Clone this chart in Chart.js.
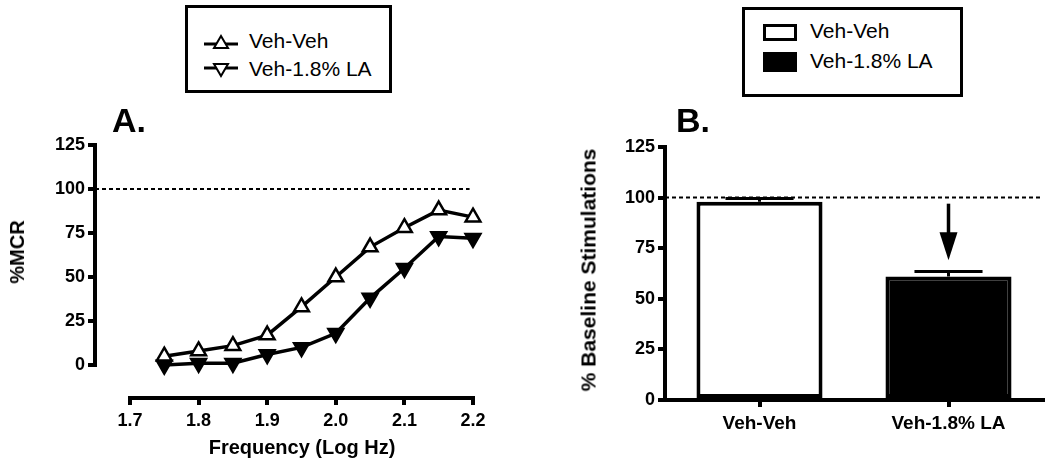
<!DOCTYPE html>
<html>
<head>
<meta charset="utf-8">
<script src="https://cdn.jsdelivr.net/npm/chart.js@4.4.1/dist/chart.umd.min.js"></script>
<style>
  body { margin: 0; background: #fff; font-family: "Liberation Sans", Arial, sans-serif; }
  #wrap { position: relative; width: 1050px; height: 472px; overflow: hidden; }
  canvas { position: absolute; top: 0; }
  .txt { position: absolute; color: #000; white-space: nowrap; line-height: 1; }
  .bold { font-weight: bold; }
  .rot { transform: translate(-50%, -50%) rotate(-90deg); }
  .legend { position: absolute; border: 3px solid #000; box-sizing: border-box; background: #fff; }
  .item { position: absolute; font-size: 21px; line-height: 22px; white-space: nowrap; }
</style>
</head>
<body>
<div id="wrap">
  <canvas id="chartA" width="520" height="472" style="left:0"></canvas>
  <canvas id="axisA" width="520" height="472" style="left:0"></canvas>
  <canvas id="chartB" width="530" height="472" style="left:520px"></canvas>

  <div class="txt bold" style="left:112px; top:103px; font-size:34px;">A.</div>
  <div class="txt bold" style="left:676px; top:103px; font-size:34px;">B.</div>

  <div class="txt bold rot" style="left:17px; top:252px; font-size:20px;">%MCR</div>
  <div class="txt bold" style="left:302px; top:447px; font-size:20px; transform:translate(-50%,-50%);">Frequency (Log Hz)</div>
  <div class="txt bold rot" style="left:588px; top:270px; font-size:21px;">% Baseline Stimulations</div>

  <div class="legend" style="left:185px; top:5px; width:207px; height:88px;">
    <div class="item" style="left:15px; top:22px;">
      <svg width="36" height="16" style="vertical-align:middle; margin-right:10px;">
        <line x1="1" y1="10" x2="35" y2="10" stroke="#000" stroke-width="3"/>
        <polygon points="18,2 25,14 11,14" fill="#fff" stroke="#000" stroke-width="2"/>
      </svg><span id="legA0"></span>
    </div>
    <div class="item" style="left:15px; top:50px;">
      <svg width="36" height="16" style="vertical-align:middle; margin-right:10px;">
        <line x1="1" y1="6" x2="35" y2="6" stroke="#000" stroke-width="3"/>
        <polygon points="11,2 25,2 18,14" fill="#fff" stroke="#000" stroke-width="2"/>
      </svg><span id="legA1"></span>
    </div>
  </div>

  <div class="legend" style="left:742px; top:7px; width:221px; height:90px;">
    <div class="item" style="left:18px; top:10px;">
      <span style="display:inline-block; width:34px; height:17px; box-sizing:border-box; border:3px solid #000; background:#fff; vertical-align:middle; margin-right:13px;"></span><span id="legB0"></span>
    </div>
    <div class="item" style="left:18px; top:40px;">
      <span style="display:inline-block; width:34px; height:20px; background:#000; vertical-align:middle; margin-right:13px;"></span><span id="legB1"></span>
    </div>
  </div>
</div>

<script>
// Panel A: frequency response
const freq = [1.75, 1.8, 1.85, 1.9, 1.95, 2.0, 2.05, 2.1, 2.15, 2.2];
const vehVeh = [5, 8, 11, 17, 33, 50, 67, 78, 88, 84];
const vehLA = [0, 1, 1, 6, 10, 18, 38, 55, 73, 72];
const seriesA = ['Veh-Veh', 'Veh-1.8% LA'];
const xTicksA = [1.7, 1.8, 1.9, 2.0, 2.1, 2.2];
const yTicksA = [0, 25, 50, 75, 100, 125];

// Panel B: baseline stimulations
const groups = ['Veh-Veh', 'Veh-1.8% LA'];
const barMeans = [98, 61];
const barErrors = [1.5, 2.5];
const yTicksB = [0, 25, 50, 75, 100, 125];
const refLine = 100;
const arrowFrom = 97;
const arrowTo = 69;

document.getElementById('legA0').textContent = seriesA[0];
document.getElementById('legA1').textContent = seriesA[1];
document.getElementById('legB0').textContent = groups[0];
document.getElementById('legB1').textContent = groups[1];

Chart.defaults.font.family = '"Liberation Sans", Arial, sans-serif';
Chart.defaults.color = '#000';

const tickFont = { size: 18, weight: 'bold' };
const axisWidth = 4;

// dashed 100% line
const refLinePlugin = {
  id: 'refLine',
  beforeDatasetsDraw(chart) {
    const { ctx, chartArea, scales } = chart;
    const y = scales.y.getPixelForValue(refLine);
    const end = chart.config.options.refLineEnd;
    ctx.save();
    ctx.strokeStyle = '#000';
    ctx.lineWidth = 2;
    ctx.setLineDash([4, 3]);
    ctx.beginPath();
    ctx.moveTo(chartArea.left, y);
    ctx.lineTo(end ? scales.x.getPixelForValue(end) : chartArea.right, y);
    ctx.stroke();
    ctx.restore();
  }
};

// main plot of panel A (y axis only, x scale hidden)
new Chart(document.getElementById('chartA'), {
  type: 'line',
  data: {
    datasets: [
      {
        label: seriesA[0],
        data: freq.map((f, i) => ({ x: f, y: vehVeh[i] })),
        borderColor: '#000',
        borderWidth: 3.5,
        pointStyle: 'triangle',
        pointRadius: 8.5,
        pointBorderWidth: 2.5,
        pointBackgroundColor: '#fff',
        pointBorderColor: '#000',
        clip: false
      },
      {
        label: seriesA[1],
        data: freq.map((f, i) => ({ x: f, y: vehLA[i] })),
        borderColor: '#000',
        borderWidth: 3.5,
        pointStyle: 'triangle',
        pointRotation: 180,
        pointRadius: 8.5,
        pointBorderWidth: 2.5,
        pointBackgroundColor: '#000',
        pointBorderColor: '#000',
        clip: false
      }
    ]
  },
  options: {
    responsive: false,
    animation: false,
    devicePixelRatio: 1,
    refLineEnd: 2.195,
    layout: { padding: { left: 0, right: 47, top: 145, bottom: 107 } },
    plugins: { legend: { display: false }, tooltip: { enabled: false } },
    scales: {
      x: { type: 'linear', min: 1.649, max: 2.2, display: false },
      y: {
        min: 0,
        max: 125,
        afterBuildTicks: s => { s.ticks = yTicksA.map(v => ({ value: v })); },
        afterFit: s => { s.width = 95; },
        border: { display: true, color: '#000', width: axisWidth },
        grid: { drawOnChartArea: false, drawTicks: true, tickLength: 7, color: '#000', lineWidth: axisWidth },
        ticks: { font: tickFont, padding: 3 }
      }
    }
  },
  plugins: [refLinePlugin]
});

// detached x axis of panel A (GraphPad style), its own scale from 1.7 to 2.2
new Chart(document.getElementById('axisA'), {
  type: 'line',
  data: { datasets: [] },
  options: {
    responsive: false,
    animation: false,
    devicePixelRatio: 1,
    layout: { padding: { left: 130, right: 47, top: 390, bottom: 0 } },
    plugins: { legend: { display: false }, tooltip: { enabled: false } },
    scales: {
      x: {
        type: 'linear',
        min: xTicksA[0],
        max: xTicksA[xTicksA.length - 1],
        afterBuildTicks: s => { s.ticks = xTicksA.map(v => ({ value: v })); },
        afterFit: s => { s.height = 74; },
        border: { display: true, color: '#000', width: axisWidth },
        grid: { drawOnChartArea: false, drawTicks: true, tickLength: 7, color: '#000', lineWidth: axisWidth },
        ticks: { font: tickFont, padding: 5, maxRotation: 0, callback: v => Number(v).toFixed(1) }
      },
      y: { display: false, min: 0, max: 1 }
    }
  }
});

// error bars and arrow for panel B
const barExtrasPlugin = {
  id: 'barExtras',
  afterDatasetsDraw(chart) {
    const { ctx, scales } = chart;
    const meta = chart.getDatasetMeta(0);
    ctx.save();
    ctx.strokeStyle = '#000';
    ctx.fillStyle = '#000';
    ctx.lineWidth = 3;
    meta.data.forEach((bar, i) => {
      const top = scales.y.getPixelForValue(barMeans[i] + barErrors[i]);
      const half = bar.width * 0.27;
      ctx.beginPath();
      ctx.moveTo(bar.x, bar.y);
      ctx.lineTo(bar.x, top);
      ctx.moveTo(bar.x - half, top);
      ctx.lineTo(bar.x + half, top);
      ctx.stroke();
    });
    // arrow over the second group
    const ax = meta.data[1].x;
    const y0 = scales.y.getPixelForValue(arrowFrom);
    const y1 = scales.y.getPixelForValue(arrowTo);
    const headLen = 28;
    ctx.lineWidth = 3.5;
    ctx.beginPath();
    ctx.moveTo(ax, y0);
    ctx.lineTo(ax, y1 - headLen + 2);
    ctx.stroke();
    ctx.beginPath();
    ctx.moveTo(ax - 9, y1 - headLen);
    ctx.lineTo(ax + 9, y1 - headLen);
    ctx.lineTo(ax, y1);
    ctx.closePath();
    ctx.fill();
    ctx.restore();
  }
};

new Chart(document.getElementById('chartB'), {
  type: 'bar',
  data: {
    labels: groups,
    datasets: [{
      label: '% Baseline Stimulations',
      data: barMeans,
      backgroundColor: ['#fff', '#000'],
      borderColor: '#000',
      borderWidth: 4,
      borderSkipped: false,
      barPercentage: 0.667,
      categoryPercentage: 1
    }]
  },
  options: {
    responsive: false,
    animation: false,
    devicePixelRatio: 1,
    layout: { padding: { left: 0, right: 7, top: 147, bottom: 0 } },
    plugins: { legend: { display: false }, tooltip: { enabled: false } },
    scales: {
      x: {
        afterFit: s => { s.height = 72; },
        border: { display: true, color: '#000', width: axisWidth },
        grid: { offset: false, drawOnChartArea: false, drawTicks: true, tickLength: 7, color: '#000', lineWidth: axisWidth },
        ticks: { font: { size: 19, weight: 'bold' }, padding: 5, maxRotation: 0 }
      },
      y: {
        min: 0,
        max: 125,
        afterBuildTicks: s => { s.ticks = yTicksB.map(v => ({ value: v })); },
        afterFit: s => { s.width = 145; },
        border: { display: true, color: '#000', width: axisWidth },
        grid: { drawOnChartArea: false, drawTicks: true, tickLength: 7, color: '#000', lineWidth: axisWidth },
        ticks: { font: tickFont, padding: 3 }
      }
    }
  },
  plugins: [refLinePlugin, barExtrasPlugin]
});
</script>
</body>
</html>
